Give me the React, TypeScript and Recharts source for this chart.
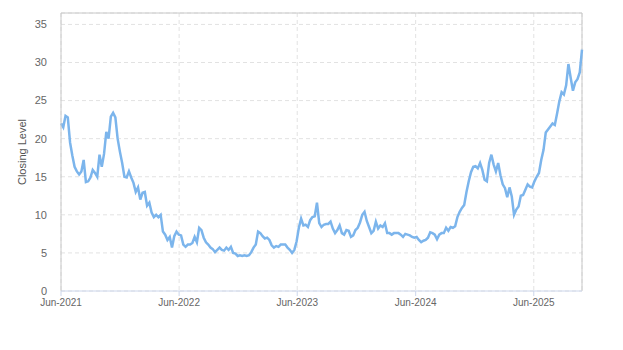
import React from 'react';
import { LineChart, Line, XAxis, YAxis, CartesianGrid, ReferenceLine } from 'recharts';

// weekly closes, first week starts 1 Jun 2021
const closes2021 = [
  22.0, 21.5, 23.0, 22.8, 19.5, 17.8, 16.3, 15.7, 15.3, 15.7, 17.2, 14.3, 14.4, 14.9, 15.9, 15.5,
  15.0, 17.9, 16.3, 18.0, 20.9, 20.0, 22.9, 23.4, 22.8, 20.0, 18.3, 16.8, 15.0, 14.9, 15.7,
];
const closes2022 = [
  14.9, 14.2, 13.0, 13.6, 12.0, 12.9, 13.0, 11.2, 11.6, 10.3, 9.7, 10.0, 9.7, 10.0, 7.8, 7.4,
  6.7, 7.1, 5.7, 7.2, 7.8, 7.4, 7.3, 6.1, 5.8, 6.1, 6.1, 6.3, 7.1, 6.4, 8.3, 8.0,
  7.0, 6.4, 6.1, 5.7, 5.5, 5.1, 5.4, 5.7, 5.4, 5.3, 5.7, 5.4, 5.8, 5.0, 4.9, 4.6,
  4.7, 4.6, 4.7, 4.6,
];
const closes2023 = [
  4.7, 5.1, 5.7, 6.1, 7.8, 7.6, 7.2, 6.9, 7.0, 6.7, 6.0, 5.7, 5.9, 5.8, 6.1, 6.1,
  6.1, 5.7, 5.4, 5.0, 5.4, 6.5, 8.3, 9.5, 8.6, 8.7, 8.4, 9.3, 9.7, 9.8, 11.6, 8.9,
  8.4, 8.7, 8.8, 8.8, 9.1, 8.2, 7.6, 8.0, 8.6, 7.6, 7.4, 8.0, 7.9, 7.1, 7.3, 8.0,
  8.3, 9.0, 10.0, 10.4,
];
const closes2024 = [
  9.2, 8.4, 7.6, 7.9, 9.1, 8.2, 8.6, 8.4, 8.9, 7.6, 7.6, 7.4, 7.6, 7.6, 7.6, 7.4,
  7.1, 7.5, 7.4, 7.3, 7.1, 7.0, 7.1, 6.7, 6.4, 6.6, 6.7, 7.0, 7.7, 7.6, 7.4, 6.8,
  7.4, 7.6, 7.6, 8.3, 7.9, 8.4, 8.3, 8.5, 9.7, 10.4, 10.9, 11.3, 13.0, 14.4, 15.6, 16.3,
  16.4, 16.1, 16.8, 15.9, 14.6,
];
const closes2025 = [
  14.4, 16.8, 17.9, 16.6, 15.7, 16.8, 15.2, 14.0, 13.5, 12.3, 13.6, 12.4, 10.0, 10.7, 11.1, 12.5,
  12.6, 13.3, 14.0, 13.7, 13.6, 14.4, 15.0, 15.5, 17.2, 18.5, 20.8, 21.2, 21.6, 22.0, 21.8, 23.3,
  24.9, 26.1, 25.8, 27.0, 29.8, 28.0, 26.3, 27.4, 27.8, 28.7, 31.7,
];

const tickDates = ['2021-06-01', '2022-06-01', '2023-06-01', '2024-06-01', '2025-06-01'];
const yTicks = [0, 5, 10, 15, 20, 25, 30, 35];

const START = Date.UTC(2021, 5, 1);
const WEEK = 7 * 24 * 3600 * 1000;
const MONTHS = ['Jan', 'Feb', 'Mar', 'Apr', 'May', 'Jun', 'Jul', 'Aug', 'Sep', 'Oct', 'Nov', 'Dec'];

const closes = [...closes2021, ...closes2022, ...closes2023, ...closes2024, ...closes2025];
const data = closes.map((v, i) => ({ t: START + i * WEEK, close: v }));
const xTicks = tickDates.map((d) => Date.parse(d + 'T00:00:00Z'));
const endT = data[data.length - 1].t;

const fmtDate = (t: number) => {
  const d = new Date(t);
  return `${MONTHS[d.getUTCMonth()]}-${d.getUTCFullYear()}`;
};

const font = '"Liberation Sans", Arial, sans-serif';

export default function App() {
  return (
    <div style={{ position: 'absolute', left: 0, top: 0, width: 623, height: 350, background: '#fff' }}>
      <LineChart
        width={623}
        height={350}
        data={data}
        margin={{ top: 13, right: 41, bottom: 29, left: 0 }}
        style={{ fontFamily: font }}
      >
        <CartesianGrid stroke="#e2e2e2" strokeDasharray="4 3" />
        <XAxis
          dataKey="t"
          type="number"
          scale="linear"
          domain={[START, endT]}
          ticks={xTicks}
          tickFormatter={fmtDate}
          stroke="#ccd6eb"
          tick={{ fill: '#666', fontSize: 10 }}
          tickSize={5}
          tickMargin={3}
          height={30}
        />
        <YAxis
          domain={[0, 36.5]}
          ticks={yTicks}
          allowDataOverflow
          stroke="#c8c8c8"
          tickLine={false}
          tickSize={6}
          tickMargin={8}
          width={61}
          tick={{ fill: '#666', fontSize: 11 }}
          label={{
            value: 'Closing Level',
            angle: -90,
            position: 'insideLeft',
            offset: 22,
            fill: '#555',
            fontSize: 11,
            style: { textAnchor: 'middle' },
          }}
        />
        <ReferenceLine y={36.5} stroke="#c8c8c8" />
        <ReferenceLine x={endT} stroke="#c8c8c8" />
        <Line
          type="linear"
          dataKey="close"
          stroke="#7cb5ec"
          strokeWidth={2.5}
          dot={false}
          isAnimationActive={false}
        />
      </LineChart>
    </div>
  );
}
